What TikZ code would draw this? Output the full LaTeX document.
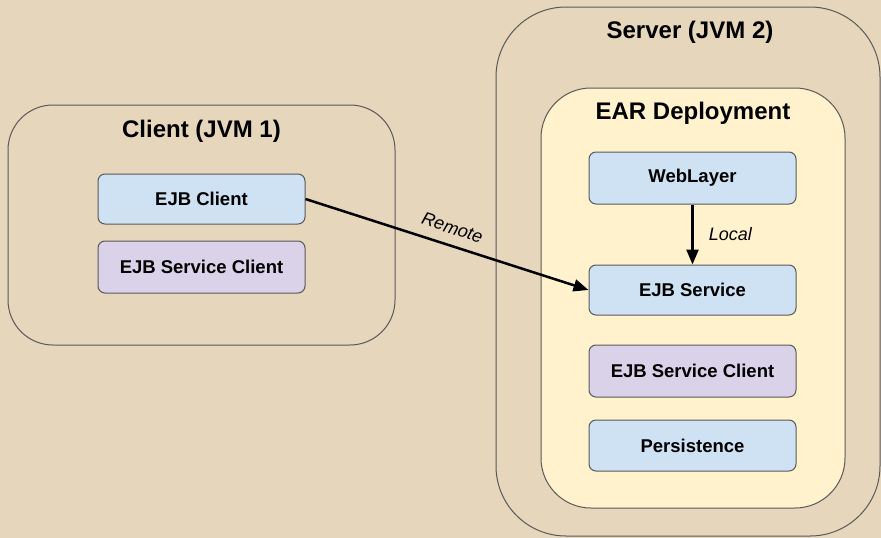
\documentclass[tikz,border=0pt]{standalone}
\usepackage{fontspec}
\setmainfont{Liberation Sans}
\usetikzlibrary{arrows.meta}
\definecolor{bgc}{HTML}{E6D6BB}
\definecolor{earc}{HTML}{FFF2CC}
\definecolor{bluec}{HTML}{CFE2F3}
\definecolor{purc}{HTML}{D9D2E9}
\definecolor{bordc}{HTML}{595959}
\tikzset{
  container/.style={draw=bordc, line width=1pt, inner sep=0pt},
  comp/.style={draw=bordc, line width=1pt, rounded corners=7pt, minimum width=207pt, inner sep=0pt, font=\fontsize{18.5}{21}\selectfont\bfseries},
  bluebox/.style={comp, fill=bluec},
  purbox/.style={comp, fill=purc},
  title/.style={font=\fontsize{24}{28}\selectfont\bfseries, inner sep=0pt},
  conn/.style={line width=2.5pt, -{Triangle[length=15pt,width=12pt]}},
  clabel/.style={font=\fontsize{18}{21}\selectfont\itshape, inner sep=0pt}
}
\begin{document}
\begin{tikzpicture}[x=1pt,y=-1pt]
\useasboundingbox[fill=bgc] (0,0) rectangle (881,538);
\node[container, rounded corners=45pt, minimum width=387pt, minimum height=240pt] (client) at (201.5,225) {};
\node[title] (clienttitle) at (201.5,131) {Client (JVM 1)};
\node[container, rounded corners=70pt, minimum width=384pt, minimum height=529pt] (server) at (688,271.5) {};
\node[title] (servertitle) at (690,32) {Server (JVM 2)};
\node[container, fill=earc, rounded corners=50pt, minimum width=304pt, minimum height=420pt] (ear) at (693,298) {};
\node[title] (eartitle) at (693,113) {EAR Deployment};
\node[bluebox, minimum height=50pt] (ejbc) at (201.5,199) {EJB Client};
\node[purbox, minimum height=52pt] (escl) at (201.5,267) {EJB Service Client};
\node[bluebox, minimum height=52pt] (web) at (692.5,178) {WebLayer};
\node[bluebox, minimum height=50pt] (svc) at (692.5,290) {EJB Service};
\node[purbox, minimum height=52pt] (escr) at (692.5,371) {EJB Service Client};
\node[bluebox, minimum height=51pt] (pers) at (692.5,445.5) {Persistence};
\draw[conn] (ejbc.east) -- node[clabel, sloped, above=10pt] (remote) {Remote} (svc.west);
\draw[conn] (web.south) -- node[clabel, right=15pt] (local) {Local} (svc.north);
\end{tikzpicture}
\end{document}
